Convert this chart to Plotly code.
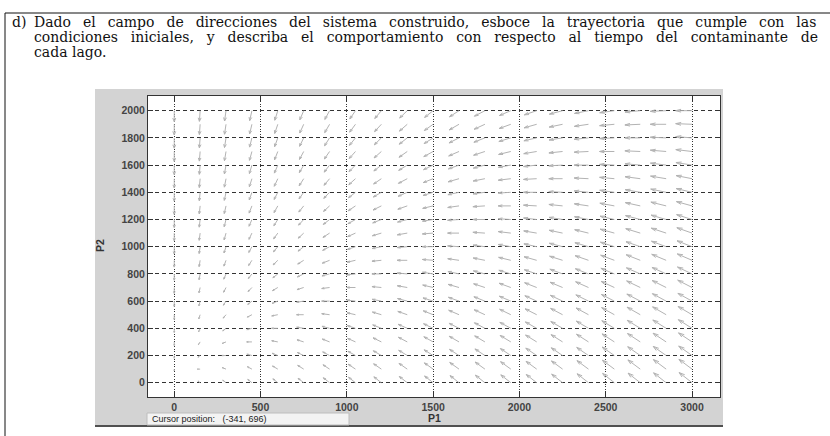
import numpy as np
import plotly.graph_objects as go

# ---- data -------------------------------------------------------------
# grid of pollutant levels where the direction field is sampled
P1_grid = [0, 150, 300, 450, 600, 750, 900, 1050, 1200, 1350, 1500,
           1650, 1800, 1950, 2100, 2250, 2400, 2550, 2700, 2850, 3000]
P2_grid = [0, 100, 200, 300, 400, 500, 600, 700, 800, 900, 1000,
           1100, 1200, 1300, 1400, 1500, 1600, 1700, 1800, 1900, 2000]

# linear system  dP/dt = A P  (lake 1 drains into lake 2)
rate_row_1 = [-1.0, 0.0]
rate_row_2 = [1.0, -1.5]

x_ticks = [0, 500, 1000, 1500, 2000, 2500, 3000]
y_ticks = [0, 200, 400, 600, 800, 1000, 1200, 1400, 1600, 1800, 2000]

text_lines = [
    "Dado el campo de direcciones del sistema construido, esboce la trayectoria que cumple con las",
    "condiciones iniciales, y describa el comportamiento con respecto al tiempo del contaminante de",
    "cada lago.",
]
# extra space between words of the justified lines (px)
word_gaps = [7.5, 8.4, 0]
cursor_text = "Cursor position:   (-341, 696)"

# ---- page geometry (pixels) -------------------------------------------
W, H = 830, 436
AX_L, AX_R, AX_T, AX_B = 148, 720, 96, 397


def px(x):
    return (x - AX_L) / (AX_R - AX_L)


def py(y):
    return (AX_B - y) / (AX_B - AX_T)


# ---- quiver arrows ------------------------------------------------------
X, Y = np.meshgrid(np.array(P1_grid, float), np.array(P2_grid, float))
U = rate_row_1[0] * X + rate_row_1[1] * Y
V = rate_row_2[0] * X + rate_row_2[1] * Y

dx = P1_grid[1] - P1_grid[0]
dy = P2_grid[1] - P2_grid[0]
gu, gv = U / dx, V / dy
mag = np.hypot(gu, gv)
mmax = mag.max()
with np.errstate(invalid="ignore", divide="ignore"):
    length = 0.9 * (mag / mmax) ** 0.6
    su = np.where(mag > 0, gu / mag * length * dx, 0.0)
    sv = np.where(mag > 0, gv / mag * length * dy, 0.0)

alpha, beta, eps = 0.33, 0.33, 1e-9
xs, ys = [], []
for x0, y0, u, v, m in zip(X.ravel(), Y.ravel(), su.ravel(), sv.ravel(), mag.ravel()):
    if m == 0:
        continue
    # shaft
    xs += [x0, x0 + u, None]
    ys += [y0, y0 + v, None]
    # head
    xs += [x0 + u - alpha * (u + beta * (v + eps)), x0 + u,
           x0 + u - alpha * (u - beta * (v + eps)), None]
    ys += [y0 + v - alpha * (v - beta * (u + eps)), y0 + v,
           y0 + v - alpha * (v + beta * (u + eps)), None]

fig = go.Figure()
fig.add_trace(go.Scatter(x=xs, y=ys, mode="lines",
                         line=dict(color="#b3b3b3", width=1),
                         hoverinfo="skip", showlegend=False))

# ---- frame, window and text --------------------------------------------
shapes = [
    # document box
    dict(type="rect", xref="paper", yref="paper",
         x0=px(5), x1=px(840), y0=py(445), y1=py(13),
         line=dict(color="#111", width=1), fillcolor="rgba(0,0,0,0)", layer="below"),
    # figure window
    dict(type="rect", xref="paper", yref="paper",
         x0=px(95), x1=px(723), y0=py(426), y1=py(89),
         line=dict(width=0), fillcolor="#d3d3d3", layer="below"),
    dict(type="line", xref="paper", yref="paper",
         x0=px(95), x1=px(723), y0=py(426), y1=py(426),
         line=dict(color="#505050", width=2), layer="below"),
    # axes background
    dict(type="rect", xref="paper", yref="paper",
         x0=0, x1=1, y0=0, y1=1,
         line=dict(width=0), fillcolor="white", layer="below"),
    # status box
    dict(type="rect", xref="paper", yref="paper",
         x0=px(147), x1=px(349), y0=py(425), y1=py(413),
         line=dict(color="#bdbdbd", width=1), fillcolor="#f3f3f3", layer="below"),
]

serif = dict(family="DejaVu Serif", size=14, color="#111")
annotations = [
    dict(text="d)", x=px(10), y=py(22), xref="paper", yref="paper",
         xanchor="left", yanchor="middle", showarrow=False, font=serif),
]
for i, (line, gap) in enumerate(zip(text_lines, word_gaps)):
    annotations.append(dict(text=f'<span style="word-spacing:{gap}px">{line}</span>',
                            x=px(32), y=py(22 + 15 * i), xref="paper", yref="paper",
                            xanchor="left", yanchor="middle", showarrow=False, font=serif))

label_font = dict(family="Liberation Sans", size=10.5, color="#333", weight="bold")
annotations += [
    dict(text="P1", x=px(434), y=py(418), xref="paper", yref="paper",
         xanchor="center", yanchor="middle", showarrow=False, font=label_font),
    dict(text="P2", x=px(100), y=py(246), xref="paper", yref="paper",
         xanchor="center", yanchor="middle", showarrow=False, textangle=-90,
         font=label_font),
    dict(text=cursor_text, x=px(150), y=py(419), xref="paper", yref="paper",
         xanchor="left", yanchor="middle", showarrow=False,
         font=dict(family="Liberation Sans", size=9, color="#222")),
]

axis_common = dict(showline=True, linecolor="#333", linewidth=1, mirror="ticks",
                   ticks="inside", ticklen=5, tickcolor="#333", zeroline=False,
                   showgrid=True,
                   tickfont=dict(family="Liberation Sans", size=10.5, color="#444",
                                 weight="bold"))

fig.update_layout(
    width=W, height=H, autosize=False,
    margin=dict(l=AX_L, r=W - AX_R, t=AX_T, b=H - AX_B, pad=0),
    paper_bgcolor="white", plot_bgcolor="rgba(0,0,0,0)",
    shapes=shapes, annotations=annotations,
    xaxis=dict(range=[-152, 3162], tickvals=x_ticks, gridcolor="#333",
               griddash="1px,1.5px", gridwidth=1.2, **axis_common),
    yaxis=dict(range=[-105, 2108], tickvals=y_ticks, gridcolor="#333",
               griddash="4px,3px", gridwidth=1, **axis_common),
)

fig.write_html("out.html")
